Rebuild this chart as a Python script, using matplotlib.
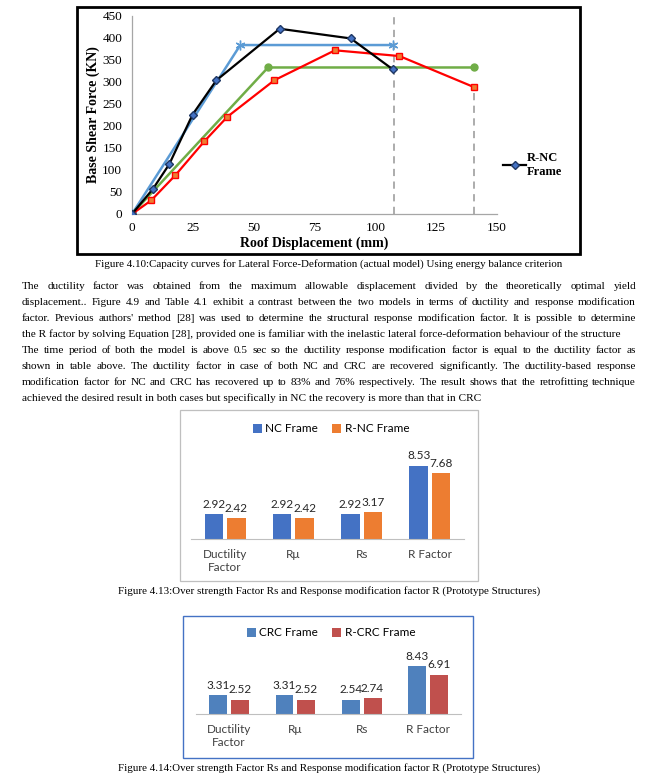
import matplotlib
matplotlib.use("Agg")
import matplotlib.pyplot as plt
from matplotlib.patches import Rectangle
from matplotlib.lines import Line2D

W, H = 658, 776
SERIF = "Liberation Serif"
SANS = "Lato"

# capacity curves (roof displacement mm, base shear kN)
rnc_x = [0, 8.6, 15.3, 24.9, 34.7, 60.7, 89.9, 107.1]
rnc_y = [0, 57, 113, 226, 304, 421, 399, 329]
blue_x = [0, 44.5, 107.1]
blue_y = [0, 384, 384]
green_x = [0, 55.9, 140.7]
green_y = [0, 333, 333]
red_x = [0, 7.9, 17.8, 29.7, 39.2, 58.5, 83.4, 109.9, 140.7]
red_y = [0, 31, 88, 165, 221, 304, 372, 359, 288]
dash_x = [107.5, 140.7]
dash_top = [450, 288]

# bar charts
cats = ["Ductility\nFactor", "R\u03bc", "Rs", "R Factor"]
nc_vals = [2.92, 2.92, 2.92, 8.53]
rnc_vals = [2.42, 2.42, 3.17, 7.68]
crc_vals = [3.31, 3.31, 2.54, 8.43]
rcrc_vals = [2.52, 2.52, 2.74, 6.91]

paragraph = [
    ("The ductility factor was obtained from the maximum allowable displacement divided by the theoretically optimal yield", True),
    ("displacement.. Figure 4.9 and Table 4.1 exhibit a contrast between the two models in terms of ductility and response modification", True),
    ("factor. Previous authors' method [28] was used to determine the structural response modification factor. It is possible to determine", True),
    ("the R factor by solving Equation [28], provided one is familiar with the inelastic lateral force-deformation behaviour of the structure", False),
    ("The time period of both the model is above 0.5 sec so the ductility response modification factor is equal to the ductility factor as", True),
    ("shown in table above. The ductility factor in case of both NC and CRC are recovered significantly. The ductility-based response", True),
    ("modification factor for NC and CRC has recovered up to 83% and 76% respectively. The result shows that the retrofitting technique", True),
    ("achieved the desired result in both cases but specifically in NC the recovery is more than that in CRC", False),
]

fig = plt.figure(figsize=(W / 100, H / 100), dpi=100)


def fx(x):
    return x / W


def fy(y):
    return 1 - y / H


def px_axes(x0, y0, x1, y1):
    return fig.add_axes([fx(x0), fy(y1), (x1 - x0) / W, (y1 - y0) / H])


def box(x0, y0, x1, y1, color, lw):
    fig.add_artist(Rectangle((fx(x0), fy(y1)), (x1 - x0) / W, (y1 - y0) / H,
                             transform=fig.transFigure, fill=False,
                             edgecolor=color, linewidth=lw))


# ---- capacity curves ----
box(77, 7, 580, 254, "black", 2.0)
ax = px_axes(132, 16, 497, 214)
ax.plot(blue_x, blue_y, color="#5B9BD5", lw=1.8, marker=(6, 2, 0), ms=7,
        mec="#5B9BD5", zorder=3)
ax.plot(green_x, green_y, color="#70AD47", lw=1.8, marker="o", ms=5, zorder=3)
ax.plot(red_x, red_y, color="#FF0000", lw=1.6, marker="s", ms=5,
        mfc="#ED7D31", mec="#FF0000", zorder=3)
ax.plot(rnc_x, rnc_y, color="black", lw=1.6, marker="D", ms=4.5,
        mfc="#4472C4", mec="#1F3864", zorder=4, label="R-NC\nFrame")
for xv, top in zip(dash_x, dash_top):
    ax.plot([xv, xv], [0, top], color="#A6A6A6", lw=1.3, ls=(0, (4, 3)), zorder=2)
ax.set_xlim(0, 150)
ax.set_ylim(0, 450)
ax.set_xticks(range(0, 151, 25))
ax.set_yticks(range(0, 451, 50))
ax.tick_params(length=0, labelsize=9.5, pad=7)
ax.tick_params(axis="x", pad=6)
for lab in ax.get_xticklabels() + ax.get_yticklabels():
    lab.set_fontfamily(SERIF)
for s in ["top", "right"]:
    ax.spines[s].set_visible(False)
for s in ["left", "bottom"]:
    ax.spines[s].set_color("#A6A6A6")
    ax.spines[s].set_linewidth(0.9)
ax.set_xlabel("Roof Displacement (mm)", fontfamily=SERIF, fontweight="bold",
              fontsize=10, labelpad=1.5)
ax.set_ylabel("Base Shear Force (KN)", fontfamily=SERIF, fontweight="bold",
              fontsize=10, labelpad=2)
handle = Line2D([], [], color="black", lw=1.6, marker="D", ms=4,
                mfc="#4472C4", mec="#1F3864")
fig.legend([handle], ["R-NC\nFrame"], loc="center left",
           bbox_to_anchor=(fx(492), fy(165)), frameon=False, handlelength=1.8,
           handletextpad=0.1, prop={"family": SERIF, "weight": "bold", "size": 9})

fig.text(fx(329), fy(264), "Figure 4.10:Capacity curves for Lateral Force-Deformation "
         "(actual model) Using energy balance criterion", ha="center", va="center",
         fontfamily=SERIF, fontsize=7.95)

# ---- paragraph, justified ----
renderer = fig.canvas.get_renderer()
left, right = 22, 636
for i, (line, justify) in enumerate(paragraph):
    base = fy(289 + 16 * i)
    if not justify:
        fig.text(fx(left), base, line, ha="left", va="baseline",
                 fontfamily=SERIF, fontsize=8.1)
        continue
    words = line.split(" ")
    arts = [fig.text(0, base, w, ha="left", va="baseline", fontfamily=SERIF,
                     fontsize=8.1) for w in words]
    widths = [a.get_window_extent(renderer).width for a in arts]
    gap = (right - left - sum(widths)) / (len(words) - 1)
    x = left
    for a, wd in zip(arts, widths):
        a.set_x(fx(x))
        x += wd + gap


# ---- bar charts ----
def bar_chart(x0, x1, ybase, ytop, vals_a, vals_b, col_a, col_b, names, leg_y):
    bx = px_axes(x0, ytop, x1, ybase)
    pos = range(len(cats))
    wdt, off = 0.27, 0.165
    ba = bx.bar([p - off for p in pos], vals_a, wdt, color=col_a, label=names[0])
    bb = bx.bar([p + off for p in pos], vals_b, wdt, color=col_b, label=names[1])
    for bars in (ba, bb):
        for r in bars:
            bx.annotate(f"{r.get_height():.2f}", (r.get_x() + r.get_width() / 2, r.get_height()),
                        xytext=(0, 3), textcoords="offset points", ha="center",
                        va="bottom", fontfamily=SANS, fontsize=8.5, color="#262626",
                        annotation_clip=False)
    bx.set_xlim(-0.5, len(cats) - 0.5)
    bx.set_ylim(0, 10)
    bx.set_yticks([])
    bx.set_xticks(list(pos))
    bx.set_xticklabels(cats, fontfamily=SANS, fontsize=8.5, color="#404040",
                       linespacing=1.3)
    bx.tick_params(axis="x", length=0, pad=7)
    for s in ["top", "right", "left"]:
        bx.spines[s].set_visible(False)
    bx.spines["bottom"].set_color("#BFBFBF")
    bx.patch.set_alpha(0)
    fig.legend(handles=[ba, bb], loc="center", bbox_to_anchor=(fx(331), fy(leg_y)),
               ncol=2, frameon=False, handlelength=0.75, handleheight=0.75,
               handletextpad=0.3, columnspacing=1.2,
               prop={"family": SANS, "size": 8.5})
    return bx


box(180, 410, 478, 581, "#BFBFBF", 0.9)
bar_chart(191, 464, 539, 453, nc_vals, rnc_vals, "#4472C4", "#ED7D31",
          ["NC Frame", "R-NC Frame"], 429)
fig.text(fx(329), fy(591), "Figure 4.13:Over strength Factor Rs and Response "
         "modification factor R (Prototype Structures)", ha="center", va="center",
         fontfamily=SERIF, fontsize=7.95)

box(183, 616, 473, 758, "#4472C4", 1.0)
bar_chart(196, 461, 714, 657, crc_vals, rcrc_vals, "#4F81BD", "#C0504D",
          ["CRC Frame", "R-CRC Frame"], 633)
fig.text(fx(329), fy(768), "Figure 4.14:Over strength Factor Rs and Response "
         "modification factor R (Prototype Structures)", ha="center", va="center",
         fontfamily=SERIF, fontsize=7.95)

fig.savefig("out.png", dpi=100)
